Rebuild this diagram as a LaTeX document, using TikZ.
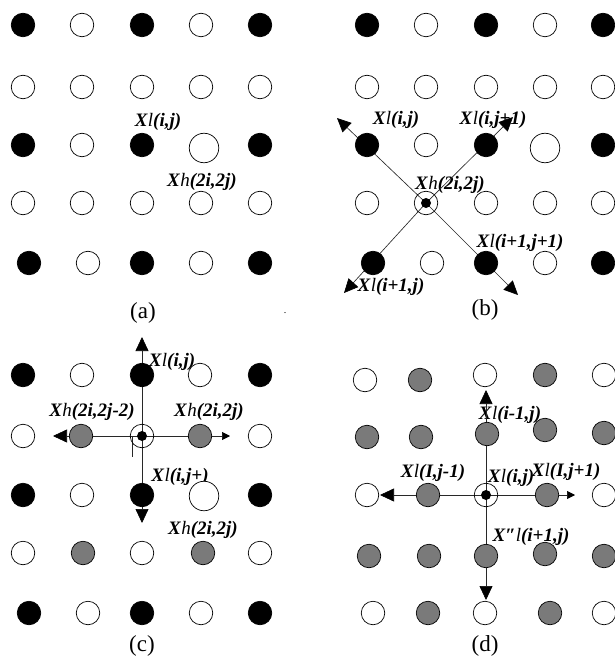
\documentclass[tikz,border=0pt]{standalone}
\usepackage{fontspec}
\setmainfont{Liberation Serif}
\usetikzlibrary{arrows.meta}
\definecolor{midgray}{RGB}{122,122,122}
\definecolor{linegray}{RGB}{40,40,40}
\pgfdeclarelayer{labels}
\pgfdeclarelayer{arrows}
\pgfsetlayers{labels,arrows,main}
% X with a lighter index letter, rest in bold italic
\newcommand\Xsym[2]{\textbf{\textit{X}}\textit{#1}\textbf{\textit{#2}}}
\tikzset{
  pt/.style={circle, draw=black, line width=0.7pt, minimum size=23.5pt, inner sep=0pt},
  bk/.style={pt, fill=black},
  wt/.style={pt, fill=white},
  gr/.style={pt, fill=midgray},
  wbig/.style={pt, fill=white, minimum size=29.5pt},
  ring/.style={pt},
  core/.style={circle, fill=black, minimum size=10pt, inner sep=0pt},
  lab/.style={font=\fontsize{19}{19}\selectfont, inner sep=0pt},
  captxt/.style={font=\fontsize{23}{23}\selectfont, inner sep=0pt},
  arr/.style={draw=linegray, line width=0.65pt, -{Triangle[length=14pt,width=13pt,color=black]}},
  arrsmall/.style={draw=linegray, line width=0.65pt, -{Triangle[length=8pt,width=8pt,color=black]}},
}
\begin{document}
\begin{tikzpicture}[x=1pt,y=-1pt]
\useasboundingbox (0,0) rectangle (614,660);

% ---------------- panel (a) ----------------
\node[bk] (a11) at (23,25) {};  \node[wt] (a12) at (82,25) {};  \node[bk] (a13) at (142,25) {};
\node[wt] (a14) at (201,25) {}; \node[bk] (a15) at (260,25) {};
\node[wt] (a21) at (23,87) {};  \node[wt] (a22) at (82,87) {};  \node[wt] (a23) at (142,87) {};
\node[wt] (a24) at (201,87) {}; \node[wt] (a25) at (260,87) {};
\node[bk] (a31) at (23,145) {}; \node[wt] (a32) at (82,145) {}; \node[bk] (a33) at (142,145) {};
\node[wbig] (a34) at (204,148) {}; \node[bk] (a35) at (260,145) {};
\node[wt] (a41) at (23,203) {}; \node[wt] (a42) at (82,203) {}; \node[wt] (a43) at (142,203) {};
\node[wt] (a44) at (201,203) {}; \node[wt] (a45) at (260,203) {};
\node[bk] (a51) at (29,263) {}; \node[wt] (a52) at (88,263) {}; \node[bk] (a53) at (142,263) {};
\node[wt] (a54) at (201,263) {}; \node[bk] (a55) at (260,263) {};
\begin{pgfonlayer}{labels}
\node[lab] (aL1) at (158,122) {\Xsym{l}{(i,j)}};
\node[lab] (aL2) at (202,182) {\Xsym{h}{(2i,2j)}};
\end{pgfonlayer}
\node[captxt] (acap) at (143,313) {(a)};
\node[inner sep=0pt, font=\fontsize{10}{10}\selectfont] (adot) at (285,313) {.};

% ---------------- panel (b) ----------------
\node[bk] (b11) at (367,25) {};  \node[wt] (b12) at (426,25) {};  \node[bk] (b13) at (486,25) {};
\node[wt] (b14) at (545,25) {};  \node[bk] (b15) at (603,25) {};
\node[wt] (b21) at (367,87) {};  \node[wt] (b22) at (426,87) {};  \node[wt] (b23) at (486,87) {};
\node[wt] (b24) at (545,87) {};  \node[wt] (b25) at (603,87) {};
\node[bk] (b31) at (367,145) {}; \node[wt] (b32) at (426,145) {}; \node[bk] (b33) at (486,145) {};
\node[wbig] (b34) at (545,148) {}; \node[bk] (b35) at (603,145) {};
\node[wt] (b41) at (367,203) {}; \node[ring] (bc) at (426,203) {}; \node[wt] (b43) at (486,203) {};
\node[wt] (b44) at (545,203) {}; \node[wt] (b45) at (603,203) {};
\node[bk] (b51) at (373,263) {}; \node[wt] (b52) at (432,263) {}; \node[bk] (b53) at (486,263) {};
\node[wt] (b54) at (545,263) {}; \node[bk] (b55) at (603,263) {};
\node[core] (bcore) at (bc) {};
\coordinate (btl) at (337,118);
\coordinate (btr) at (513,117);
\coordinate (bbl) at (344,293);
\coordinate (bbr) at (518,295);
\begin{pgfonlayer}{arrows}
\draw[arr] (bc.center) -- (btl);
\draw[arr] (bc.center) -- (btr);
\draw[arr] (bc.center) -- (bbl);
\draw[arr] (bc.center) -- (bbr);
\end{pgfonlayer}
\begin{pgfonlayer}{labels}
\node[lab] (bL1) at (396,120) {\Xsym{l}{(i,j)}};
\node[lab] (bL2) at (493,120) {\Xsym{l}{(i,j+1)}};
\node[lab] (bL3) at (450,185) {\Xsym{h}{(2i,2j)}};
\node[lab] (bL4) at (520,243) {\Xsym{l}{(i+1,j+1)}};
\node[lab] (bL5) at (391,287) {\Xsym{l}{(i+1,j)}};
\end{pgfonlayer}
\node[captxt] (bcap) at (485,310) {(b)};

% ---------------- panel (c) ----------------
\node[bk] (c11) at (23,375) {};  \node[wt] (c12) at (82,375) {};  \node[bk] (c13) at (142,375) {};
\node[wt] (c14) at (200,375) {}; \node[bk] (c15) at (260,375) {};
\node[wt] (c21) at (23,436) {};  \node[gr] (c22) at (81,436) {};  \node[ring] (cc) at (142,436) {};
\node[gr] (c24) at (200,436) {}; \node[wt] (c25) at (260,436) {};
\node[bk] (c31) at (23,495) {};  \node[wt] (c32) at (82,495) {};  \node[bk] (c33) at (142,495) {};
\node[wbig] (c34) at (204,496) {}; \node[bk] (c35) at (260,495) {};
\node[wt] (c41) at (23,553) {};  \node[gr] (c42) at (83,553) {};  \node[wt] (c43) at (142,553) {};
\node[gr] (c44) at (203,553) {}; \node[wt] (c45) at (260,553) {};
\node[bk] (c51) at (29,613) {};  \node[wt] (c52) at (88,613) {};  \node[bk] (c53) at (142,613) {};
\node[wt] (c54) at (201,613) {}; \node[bk] (c55) at (260,613) {};
\node[core] (ccore) at (cc) {};
\coordinate (cup) at (142,337);
\coordinate (cdown) at (142,523);
\coordinate (cleft) at (53,436);
\coordinate (cright) at (230,436);
\coordinate (ctick1) at (132,437);
\coordinate (ctick2) at (132,457);
\begin{pgfonlayer}{arrows}
\draw[arr] (cc.center) -- (cup);
\draw[arr] (cc.center) -- (cdown);
\draw[arr] (cc.center) -- (cleft);
\draw[arrsmall] (cc.center) -- (cright);
\draw[draw=linegray, line width=0.6pt] (ctick1) -- (ctick2);
\end{pgfonlayer}
\begin{pgfonlayer}{labels}
\node[lab] (cL1) at (172,362) {\Xsym{l}{(i,j)}};
\node[lab] (cL2) at (92,412) {\Xsym{h}{(2i,2j-2)}};
\node[lab] (cL3) at (209,412) {\Xsym{h}{(2i,2j)}};
\node[lab] (cL4) at (180,477) {\Xsym{l}{(i,j+)}};
\node[lab] (cL5) at (203,530) {\Xsym{h}{(2i,2j)}};
\end{pgfonlayer}
\node[captxt] (ccap) at (142,646) {(c)};

% ---------------- panel (d) ----------------
\node[wt] (d11) at (365,380) {}; \node[gr] (d12) at (420,380) {}; \node[wt] (d13) at (485,375) {};
\node[gr] (d14) at (545,375) {}; \node[wt] (d15) at (604,375) {};
\node[gr] (d21) at (367,437) {}; \node[gr] (d22) at (421,437) {}; \node[gr] (d23) at (487,434) {};
\node[gr] (d24) at (545,430) {}; \node[gr] (d25) at (604,433) {};
\node[wt] (d31) at (367,495) {}; \node[gr] (d32) at (428,495) {}; \node[ring] (dc) at (486,495) {};
\node[gr] (d34) at (547,495) {}; \node[wt] (d35) at (604,495) {};
\node[gr] (d41) at (369,556) {}; \node[gr] (d42) at (429,556) {}; \node[gr] (d43) at (486,556) {};
\node[gr] (d44) at (545,554) {}; \node[gr] (d45) at (604,556) {};
\node[wt] (d51) at (373,613) {}; \node[gr] (d52) at (428,613) {}; \node[wt] (d53) at (485,613) {};
\node[gr] (d54) at (550,613) {}; \node[wt] (d55) at (604,613) {};
\node[core] (dcore) at (dc) {};
\coordinate (dup) at (486,390);
\coordinate (ddown) at (486,600);
\coordinate (dleft) at (380,495);
\coordinate (dright) at (575,495);
\begin{pgfonlayer}{arrows}
\draw[arr] (dc.center) -- (dup);
\draw[arr] (dc.center) -- (ddown);
\draw[arr] (dc.center) -- (dleft);
\draw[arrsmall] (dc.center) -- (dright);
\end{pgfonlayer}
\begin{pgfonlayer}{labels}
\node[lab] (dL1) at (510,415) {\Xsym{l}{(i-1,j)}};
\node[lab] (dL2) at (433,473) {\Xsym{l}{(I,j-1)}};
\node[lab] (dL3) at (511,478) {\Xsym{l}{(i,j)}};
\node[lab] (dL4) at (566,472) {\Xsym{l}{(I,j+1)}};
\node[lab] (dL5) at (531,537) {\textbf{\textit{X″}}\textit{l}\textbf{\textit{(i+1,j)}}};
\end{pgfonlayer}
\node[captxt] (dcap) at (485,646) {(d)};
\end{tikzpicture}
\end{document}
